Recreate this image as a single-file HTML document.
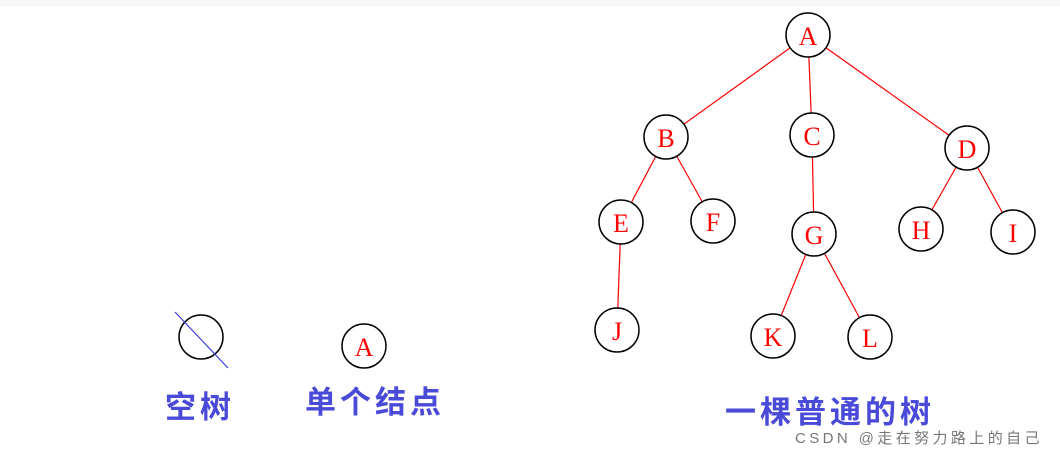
<!DOCTYPE html>
<html><head><meta charset="utf-8"><style>
body{margin:0;background:#fff;width:1060px;height:454px;overflow:hidden;position:relative}
.t{position:absolute;font-family:"Liberation Sans","Noto Sans CJK SC",sans-serif;font-weight:bold;color:#4a4ad8;font-size:31px;white-space:nowrap;letter-spacing:4px;line-height:1}
</style></head><body>
<div style="position:absolute;left:0;top:0;width:1060px;height:6px;background:#f5f6f8"></div>
<svg width="1060" height="454" style="position:absolute;left:0;top:0">
<g stroke="#f00" stroke-width="1.2">
<line x1="808" y1="35" x2="666" y2="137"/><line x1="808" y1="35" x2="812" y2="135"/><line x1="808" y1="35" x2="967" y2="148"/>
<line x1="666" y1="137" x2="621" y2="222"/><line x1="666" y1="137" x2="713" y2="221"/>
<line x1="812" y1="135" x2="814" y2="234"/>
<line x1="967" y1="148" x2="921" y2="229"/><line x1="967" y1="148" x2="1013" y2="232"/>
<line x1="621" y1="222" x2="617" y2="330"/>
<line x1="814" y1="234" x2="773" y2="336"/><line x1="814" y1="234" x2="870" y2="337"/>
</g>
<g fill="#fff" stroke="#000" stroke-width="1.5">
<circle cx="808" cy="35" r="22"/><circle cx="666" cy="137" r="22"/><circle cx="812" cy="135" r="22"/><circle cx="967" cy="148" r="22"/>
<circle cx="621" cy="222" r="22"/><circle cx="713" cy="221" r="22"/><circle cx="814" cy="234" r="22"/><circle cx="921" cy="229" r="22"/><circle cx="1013" cy="232" r="22"/>
<circle cx="617" cy="330" r="22"/><circle cx="773" cy="336" r="22"/><circle cx="870" cy="337" r="22"/>
<circle cx="201" cy="337" r="22"/><circle cx="364" cy="346" r="22"/>
</g>
<line x1="175" y1="312" x2="228" y2="368" stroke="#3a3ae0" stroke-width="1.2"/>
<g fill="#f00" font-family="Liberation Serif,serif" font-size="26" text-anchor="middle">
<text x="808" y="45">A</text><text x="666" y="147">B</text><text x="812" y="145">C</text><text x="967" y="158">D</text>
<text x="621" y="232">E</text><text x="713" y="231">F</text><text x="814" y="244">G</text><text x="921" y="239">H</text><text x="1013" y="242">I</text>
<text x="617" y="340">J</text><text x="773" y="346">K</text><text x="870" y="347">L</text><text x="364" y="356">A</text>
</g>
</svg>
<div class="t" style="left:165px;top:392px">空树</div>
<div class="t" style="left:305px;top:387px">单个结点</div>
<div class="t" style="left:725px;top:397px">一棵普通的树</div>
<div style="position:absolute;left:795px;top:427px;font-family:'Liberation Sans','Noto Sans CJK SC',sans-serif;font-size:15px;letter-spacing:3.4px;color:#777">CSDN @走在努力路上的自己</div>
</body></html>
